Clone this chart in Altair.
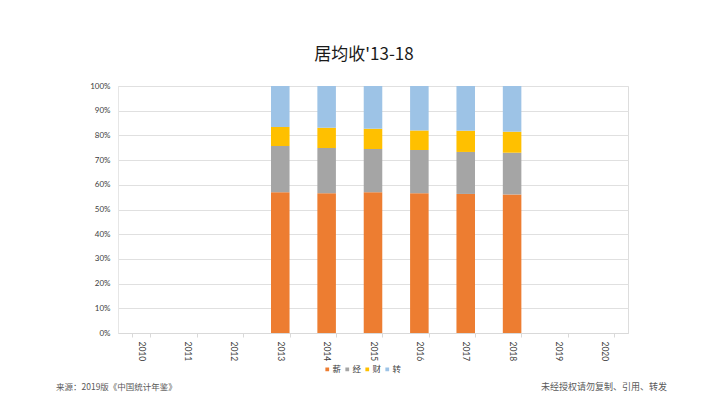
import altair as alt
import pandas as pd

years = ["2010", "2011", "2012", "2013", "2014", "2015", "2016", "2017", "2018", "2019", "2020"]
data_years = ["2013", "2014", "2015", "2016", "2017", "2018"]
series = ["薪", "经", "财", "转"]
colors = ["#ED7D31", "#A5A5A5", "#FFC000", "#9DC3E6"]

wage = [57.0, 56.6, 57.0, 56.6, 56.3, 56.1]
business = [18.7, 18.3, 17.5, 17.5, 17.0, 16.9]
property_ = [7.7, 8.2, 8.2, 7.9, 8.6, 8.5]
transfer = [16.6, 16.9, 17.3, 18.0, 18.1, 18.5]

title_text = "居均收'13-18"
source_text = "来源：2019版《中国统计年鉴》"
note_text = "未经授权请勿复制、引用、转发"

rows = []
for i, y in enumerate(data_years):
    for k, (s, vals) in enumerate(zip(series, [wage, business, property_, transfer])):
        rows.append({"year": y, "series": s, "value": vals[i], "idx": k})
df = pd.DataFrame(rows)

font_num = "Lato"
font_cjk = "Noto Sans CJK SC"

bars = alt.Chart(df).mark_bar().encode(
    x=alt.X("year:N", scale=alt.Scale(domain=years, paddingInner=0.6, paddingOuter=0.3),
            axis=alt.Axis(title=None, labelAngle=90, labelAlign="left", labelBaseline="middle",
                          labelFontSize=8.5, labelColor="#404040", labelFont=font_num, labelPadding=4,
                          tickBand="extent", tickColor="#D9D9D9", tickSize=4,
                          domainColor="#D9D9D9", grid=False)),
    y=alt.Y("value:Q", stack="normalize",
            scale=alt.Scale(domain=[0, 1]),
            axis=alt.Axis(title=None, format=".0%", values=[i / 10 for i in range(11)],
                          labelFontSize=8, labelColor="#404040", labelFont=font_num, labelPadding=8,
                          ticks=False, domainColor="#E6E6E6", gridColor="#E0E0E0")),
    color=alt.Color("series:N", scale=alt.Scale(domain=series, range=colors),
                    legend=alt.Legend(title=None, orient="none", direction="horizontal",
                                      legendX=205, legendY=279, symbolType="square", symbolSize=14,
                                      symbolStrokeWidth=0, labelFontSize=8.5, labelFont=font_cjk,
                                      labelColor="#404040", labelOffset=1, columnPadding=1)),
    order=alt.Order("idx:Q", sort="ascending"),
)

title_df = pd.DataFrame({"t": [title_text]})
title = alt.Chart(title_df).mark_text(font=font_cjk, fontSize=17, color="#1a1a1a",
                                      align="center", baseline="alphabetic").encode(
    text="t:N", x=alt.value(246), y=alt.value(-26))

src_df = pd.DataFrame({"t": [source_text]})
src = alt.Chart(src_df).mark_text(font=font_cjk, fontSize=8.5, color="#595959",
                                  align="left", baseline="middle").encode(
    text="t:N", x=alt.value(-62), y=alt.value(301))

note_df = pd.DataFrame({"t": [note_text]})
note = alt.Chart(note_df).mark_text(font=font_cjk, fontSize=9, color="#595959",
                                    align="right", baseline="middle").encode(
    text="t:N", x=alt.value(549), y=alt.value(301))

chart = alt.layer(bars, title, src, note).properties(
    width=510, height=247,
    autosize=alt.AutoSizeParams(type="none"),
    padding={"left": 110, "top": 78, "right": 72, "bottom": 63},
).configure_view(stroke=None).configure(background="white")

chart.save("out.html", embed_options={"renderer": "svg", "actions": False})
